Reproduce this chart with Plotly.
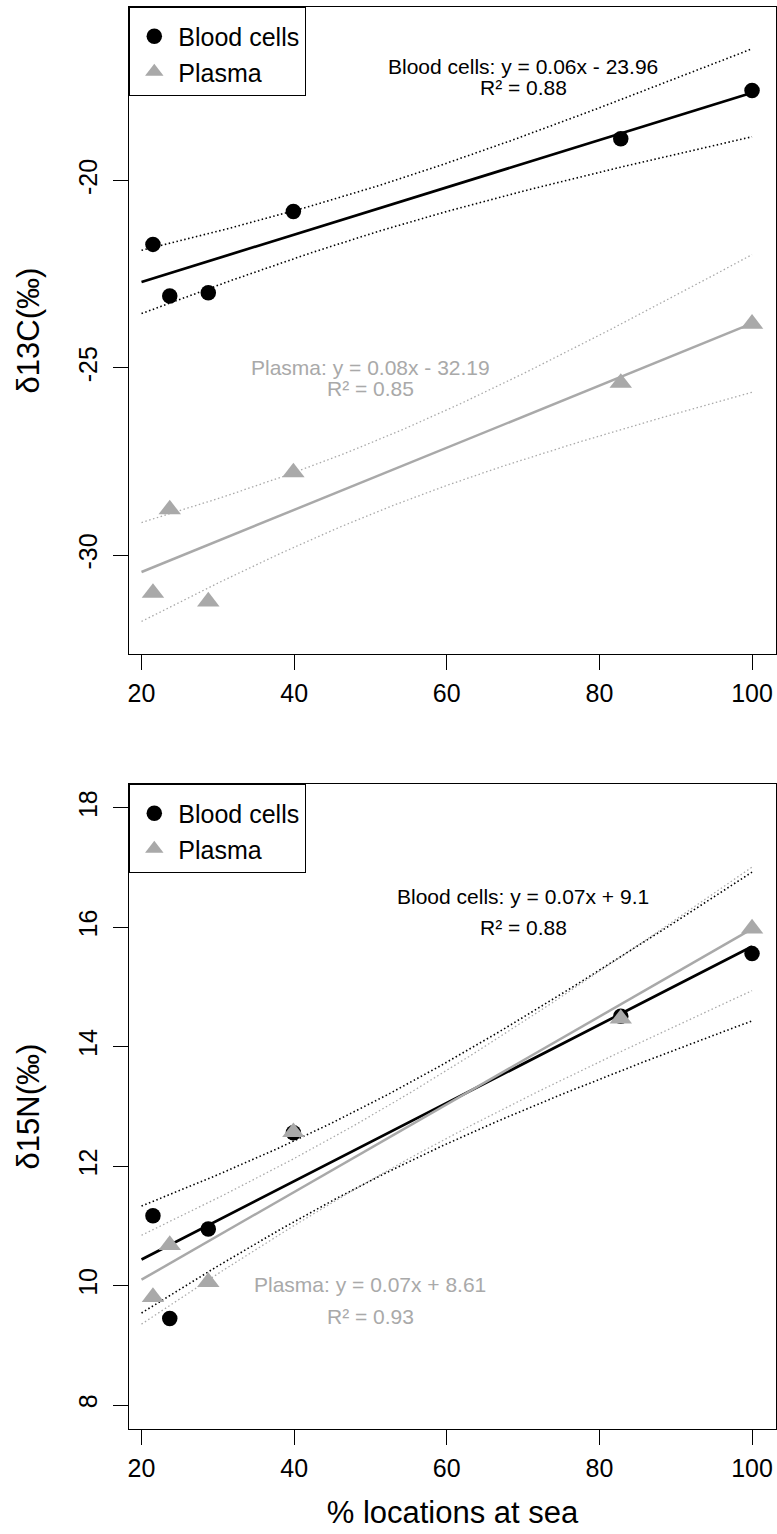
import numpy as np
import plotly.graph_objects as go

# ---------------- data ----------------
x_sea = [21.5, 23.7, 28.75, 39.9, 82.8, 100.0]
d13c_blood = [-21.70, -23.08, -22.99, -20.82, -18.88, -17.59]
d13c_plasma = [-31.01, -28.78, -31.24, -27.79, -25.40, -23.82]
d15n_blood = [11.17, 9.45, 10.95, 12.56, 14.51, 15.56]
d15n_plasma = [9.81, 10.68, 10.06, 12.57, 14.47, 15.98]

x_ticks = [20, 40, 60, 80, 100]
x_tick_text = ["20", "40", "60", "80", "100"]
c_ticks = [-30, -25, -20]
c_tick_text = ["-30", "-25", "-20"]
n_ticks = [8, 10, 12, 14, 16, 18]
n_tick_text = ["8", "10", "12", "14", "16", "18"]
c_ylim = [-32, -16]
n_ylim = [8, 18]
fit_span = [20, 100]

series_names = ["Blood cells", "Plasma"]
c_eq = ["Blood cells: y = 0.06x - 23.96", "R² = 0.88", "Plasma: y = 0.08x - 32.19", "R² = 0.85"]
n_eq = ["Blood cells: y = 0.07x + 9.1", "R² = 0.88", "Plasma: y = 0.07x + 8.61", "R² = 0.93"]
# label anchor points (data units): [x, y] for each text line
c_eq_pos = [[70, -16.95], [70, -17.52], [50, -25.0], [50, -25.55]]
n_eq_pos = [[70, 16.52], [70, 15.99], [50, 10.02], [50, 9.48]]

BLACK = "#000000"
GREY = "#A9A9A9"
FONT = "Liberation Sans, Arial, sans-serif"


def expand(lo, hi, f=0.04):
    d = hi - lo
    return [lo - f * d, hi + f * d]


def fit_ci(x, y, xs, z=1.96):
    x = np.asarray(x, float)
    y = np.asarray(y, float)
    n = len(x)
    b, a = np.polyfit(x, y, 1)
    res = y - (a + b * x)
    s = np.sqrt(np.sum(res ** 2) / (n - 2))
    sxx = np.sum((x - x.mean()) ** 2)
    fit = a + b * xs
    se = s * np.sqrt(1.0 / n + (xs - x.mean()) ** 2 / sxx)
    return fit, fit - z * se, fit + z * se


xs = np.linspace(fit_span[0], fit_span[1], 161)
xr = expand(min(x_sea), max(x_sea))

fig = go.Figure()


def add_panel(yb, yp, xa, ya, legend_name):
    for yv, col, lw, dw in [(yb, BLACK, 2.7, 1.6), (yp, GREY, 2.5, 1.3)]:
        fit, lo, hi = fit_ci(x_sea, yv, xs)
        for band in (lo, hi):
            fig.add_trace(go.Scatter(x=xs, y=band, mode="lines", xaxis=xa, yaxis=ya,
                                     line=dict(color=col, width=dw, dash="1.5px,2.5px"),
                                     showlegend=False, hoverinfo="skip"))
        fig.add_trace(go.Scatter(x=xs, y=fit, mode="lines", xaxis=xa, yaxis=ya,
                                 line=dict(color=col, width=lw), showlegend=False,
                                 hoverinfo="skip"))
    fig.add_trace(go.Scatter(x=x_sea, y=yb, mode="markers", name=series_names[0],
                             xaxis=xa, yaxis=ya, legend=legend_name,
                             marker=dict(symbol="circle", size=15.5, color=BLACK)))
    fig.add_trace(go.Scatter(x=x_sea, y=yp, mode="markers", name=series_names[1],
                             xaxis=xa, yaxis=ya, legend=legend_name,
                             marker=dict(symbol="triangle-up", size=19.5, color=GREY)))


add_panel(d13c_blood, d13c_plasma, "x", "y", "legend")
add_panel(d15n_blood, d15n_plasma, "x2", "y2", "legend2")

W, H = 777, 1534
mt, mb, ml, mr = 7, 105, 129, 1
ph = H - mt - mb
top_dom = [(1429 - 654) / ph, 1.0]
bot_dom = [0.0, (1429 - 784) / ph]

axis_common = dict(showline=True, linecolor=BLACK, linewidth=1.3, mirror=True,
                   ticks="outside", ticklen=15, tickwidth=1.3, tickcolor=BLACK,
                   showgrid=False, zeroline=False, automargin=False,
                   tickfont=dict(size=25, color=BLACK, family=FONT))

legend_style = dict(x=0, xanchor="left", yanchor="top",
                    bordercolor=BLACK, borderwidth=1.3, bgcolor="white",
                    font=dict(size=25, family=FONT, color=BLACK),
                    title=dict(text=" ", font=dict(size=4)),
                    tracegroupgap=0, itemwidth=38)

fig.update_layout(
    width=W, height=H,
    margin=dict(l=ml, r=mr, t=mt, b=mb, pad=0, autoexpand=False),
    paper_bgcolor="white", plot_bgcolor="white",
    font=dict(family=FONT, color=BLACK),
    xaxis=dict(domain=[0, 1], anchor="y", range=xr, tickvals=x_ticks,
               ticktext=x_tick_text, ticklabelstandoff=2, **axis_common),
    yaxis=dict(domain=top_dom, anchor="x", range=expand(*c_ylim), tickvals=c_ticks,
               ticktext=c_tick_text, tickangle=-90, ticklabelstandoff=6,
               title=dict(text="δ13C(‰)", font=dict(size=31, family=FONT), standoff=24),
               **axis_common),
    xaxis2=dict(domain=[0, 1], anchor="y2", range=xr, tickvals=x_ticks,
                ticktext=x_tick_text, ticklabelstandoff=2,
                title=dict(text="% locations at sea", font=dict(size=31, family=FONT), standoff=20),
                **axis_common),
    yaxis2=dict(domain=bot_dom, anchor="x2", range=expand(*n_ylim), tickvals=n_ticks,
                ticktext=n_tick_text, tickangle=-90, ticklabelstandoff=6,
                title=dict(text="δ15N(‰)", font=dict(size=31, family=FONT), standoff=24),
                **axis_common),
    legend=dict(y=top_dom[1], **legend_style),
    legend2=dict(y=bot_dom[1], **legend_style),
)

annos = []
for texts, pos, xa, ya in [(c_eq, c_eq_pos, "x", "y"), (n_eq, n_eq_pos, "x2", "y2")]:
    for i, (t, p) in enumerate(zip(texts, pos)):
        annos.append(dict(text=t, x=p[0], y=p[1], xref=xa, yref=ya, showarrow=False,
                          xanchor="center", yanchor="middle",
                          font=dict(size=21, family=FONT, color=BLACK if i < 2 else GREY)))
fig.update_layout(annotations=annos)

fig.write_html(
    "out.html",
    config={"displayModeBar": False},
    post_script="document.body.style.margin='0';document.body.style.padding='0';"
                "document.documentElement.style.overflow='hidden';",
)
